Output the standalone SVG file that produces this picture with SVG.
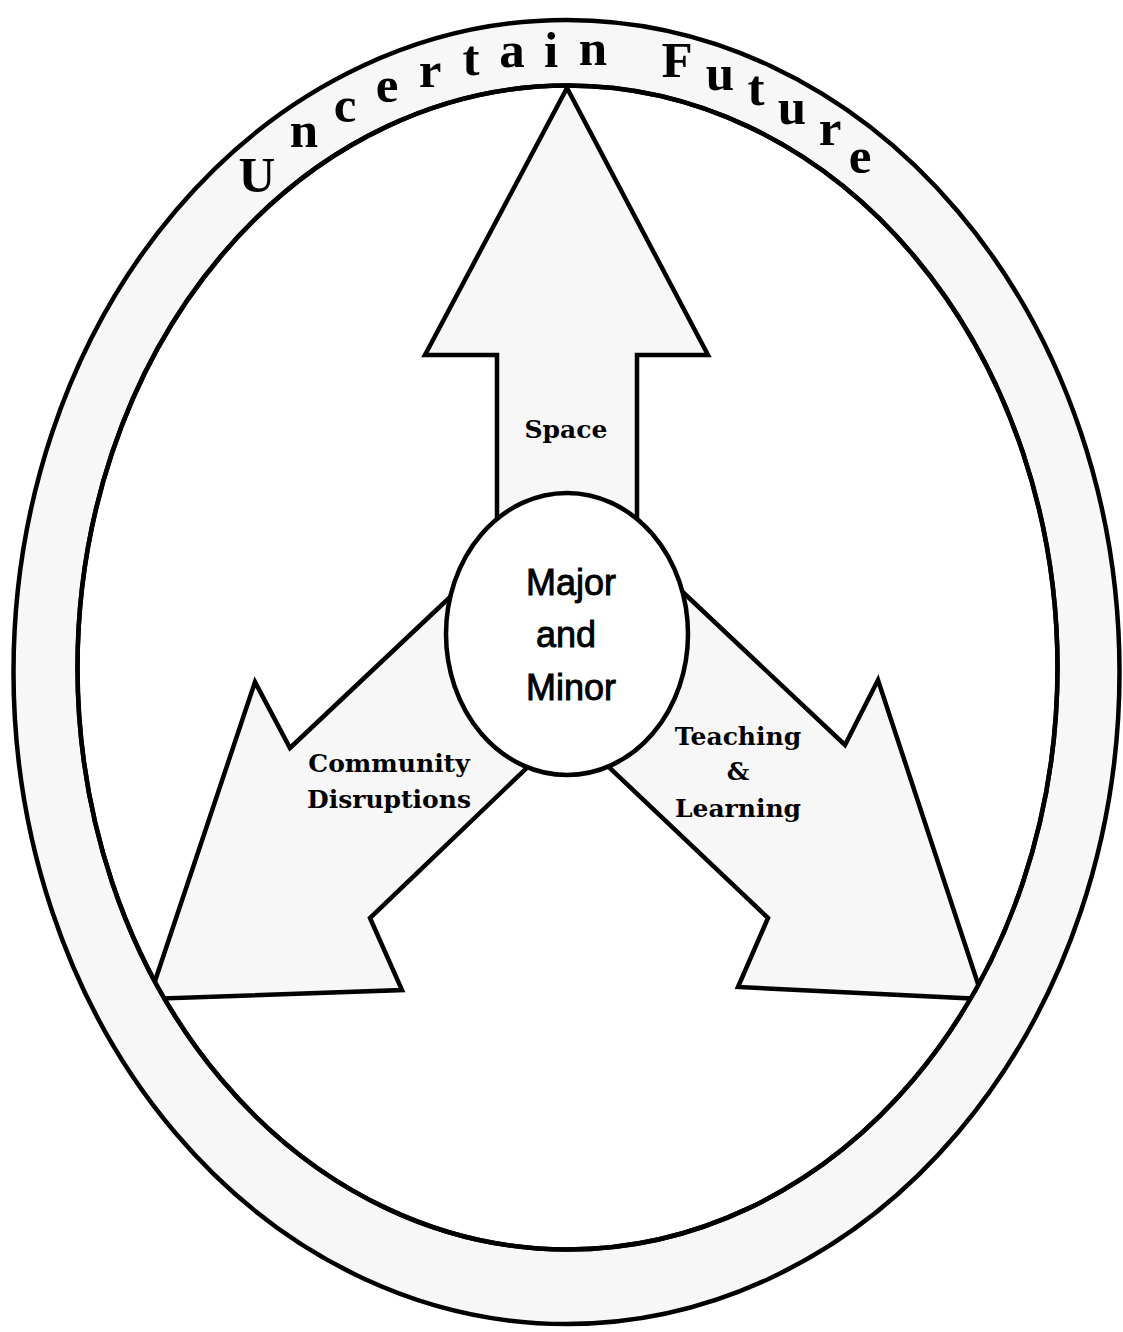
<svg xmlns="http://www.w3.org/2000/svg" width="1123" height="1332" viewBox="0 0 1123 1332">
  <style>
    .ln { stroke: #000; stroke-width: 4.5; stroke-linejoin: miter; }
    .shape { fill: #f7f7f7; stroke: #000; stroke-width: 4.5; stroke-linejoin: miter; }
    .ring { font-family: "Liberation Serif", "Times New Roman", serif; font-weight: bold; font-size: 51px; fill: #000; text-anchor: middle; }
    .lbl { font-family: "DejaVu Serif", "Liberation Serif", serif; font-weight: bold; font-size: 25px; fill: #000; text-anchor: middle; }
    .ctr { font-family: "Liberation Sans", Arial, sans-serif; font-size: 36px; fill: #000; stroke: #000; stroke-width: 0.9; text-anchor: middle; }
  </style>
  <defs>
    <clipPath id="innerClip">
      <ellipse cx="567.5" cy="667.5" rx="490" ry="582"/>
    </clipPath>
  </defs>
  <rect x="0" y="0" width="1123" height="1332" fill="#fff"/>

  <g id="ring">
    <ellipse cx="566.5" cy="672" rx="553" ry="652" fill="#f7f7f7" class="ln"/>
    <ellipse cx="567.5" cy="667.5" rx="490" ry="582" fill="#fff" class="ln"/>
    <g class="ring">
      <text x="257" y="192">U</text>
      <text x="304" y="147">n</text>
      <text x="345" y="122">c</text>
      <text x="387" y="102">e</text>
      <text x="430" y="87">r</text>
      <text x="471" y="75">t</text>
      <text x="512" y="67">a</text>
      <text x="551" y="67">i</text>
      <text x="593" y="65">n</text>
      <text x="677" y="77">F</text>
      <text x="720" y="90">u</text>
      <text x="756" y="105">t</text>
      <text x="792" y="124">u</text>
      <text x="830" y="145">r</text>
      <text x="860" y="173">e</text>
    </g>
  </g>

  <g id="connectors" clip-path="url(#innerClip)">
    <g id="arrow-space">
      <polygon class="shape" points="567,88 708,355 637,355 637,560 497,560 497,355 425,355"/>
    </g>
    <g id="arrow-community">
      <polygon class="shape" points="500,550 290,748 255,682 149,999 402,990 370,918 580,717"/>
    </g>
    <g id="arrow-teaching">
      <polygon class="shape" points="635,547 845,745 878,680 983,999 738,987 768,918 555,716"/>
    </g>
  </g>
  <ellipse cx="567.5" cy="667.5" rx="490" ry="582" fill="none" class="ln"/>

  <g id="labels">
    <text class="lbl" x="566" y="438">Space</text>
    <text class="lbl" x="389" y="772">Community</text>
    <text class="lbl" x="389" y="808">Disruptions</text>
    <text class="lbl" x="738" y="745">Teaching</text>
    <text class="lbl" x="738" y="780">&amp;</text>
    <text class="lbl" x="738" y="817">Learning</text>
  </g>

  <g id="node-center">
    <ellipse cx="567" cy="634" rx="121" ry="141" fill="#fff" class="ln"/>
    <text class="ctr" x="571" y="595">Major</text>
    <text class="ctr" x="566" y="647">and</text>
    <text class="ctr" x="571" y="700">Minor</text>
  </g>
</svg>
